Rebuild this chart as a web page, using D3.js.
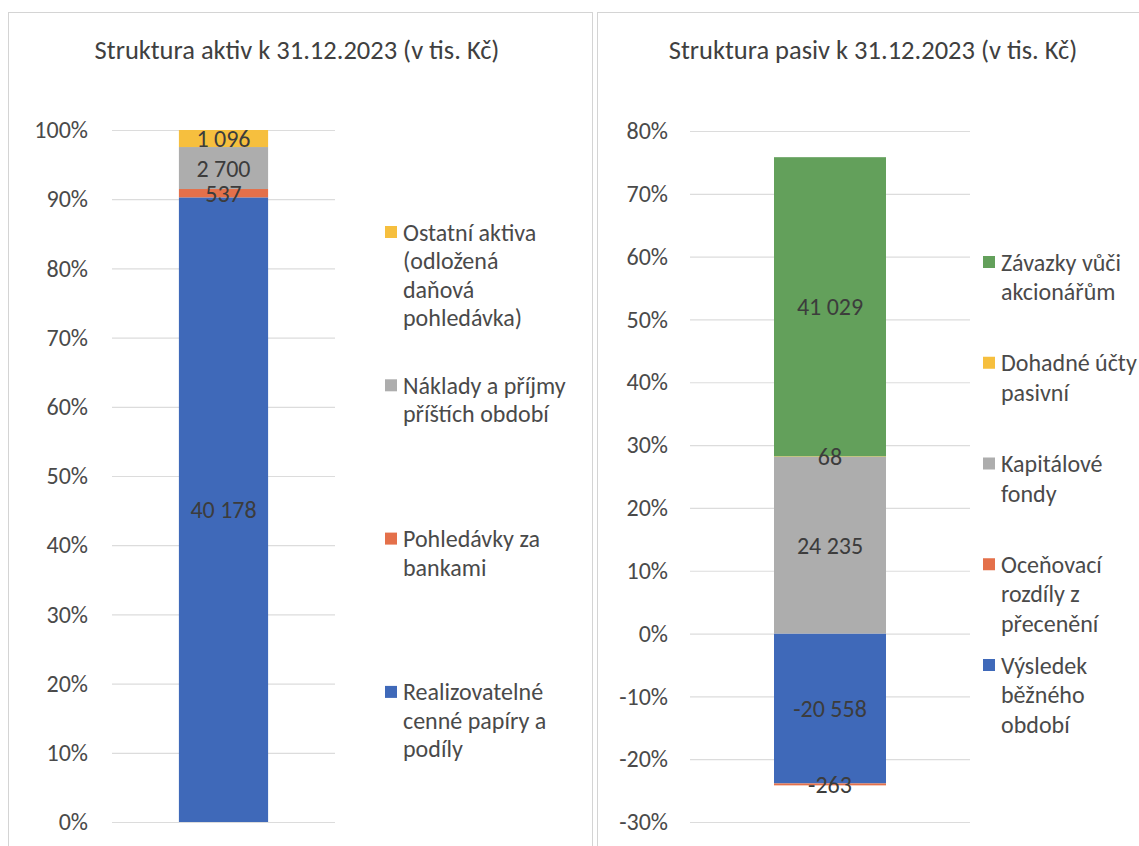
<!DOCTYPE html>
<html>
<head>
<meta charset="utf-8">
<script src="https://cdn.jsdelivr.net/npm/d3@7"></script>
<style>
  body { margin: 0; background: #fff; }
  svg { display: block; font-family: Carlito, Calibri, Lato, sans-serif; }
</style>
</head>
<body>
<svg id="chart" width="1139" height="846"></svg>
<script>
// aktiva (bottom -> top)
const aktivaSeries = ['Realizovatelné cenné papíry a podíly', 'Pohledávky za bankami', 'Náklady a příjmy příštích období', 'Ostatní aktiva (odložená daňová pohledávka)'];
const aktivaLegend = [['Realizovatelné', 'cenné papíry a', 'podíly'], ['Pohledávky za', 'bankami'], ['Náklady a příjmy', 'příštích období'], ['Ostatní aktiva', '(odložená', 'daňová', 'pohledávka)']];
const aktivaValues = [40178, 537, 2700, 1096];
const aktivaColors = ['#3f69b9', '#e4704a', '#adadad', '#f6bf3e'];
const aktivaTicks = [0, 0.1, 0.2, 0.3, 0.4, 0.5, 0.6, 0.7, 0.8, 0.9, 1];

// pasiva (bottom -> top)
const pasivaSeries = ['Výsledek běžného období', 'Oceňovací rozdíly z přecenění', 'Kapitálové fondy', 'Dohadné účty pasivní', 'Závazky vůči akcionářům'];
const pasivaLegend = [['Výsledek', 'běžného', 'období'], ['Oceňovací', 'rozdíly z', 'přecenění'], ['Kapitálové', 'fondy'], ['Dohadné účty', 'pasivní'], ['Závazky vůči', 'akcionářům']];
const pasivaValues = [-20558, -263, 24235, 68, 41029];
const pasivaColors = ['#3f69b9', '#e4704a', '#adadad', '#f6bf3e', '#63a05b'];
const pasivaTicks = [-0.3, -0.2, -0.1, 0, 0.1, 0.2, 0.3, 0.4, 0.5, 0.6, 0.7, 0.8];

const svg = d3.select('#chart');
const textColor = '#4a4a4a';
const gridColor = '#dcdcdc';

const cz = d3.formatLocale({decimal: ',', thousands: '\u00a0', grouping: [3], currency: ['', ' Kč'], minus: '-'});
const fmtNum = cz.format(',d');
const fmtPct = cz.format('.0%');

function drawChart(cfg) {
    const g = svg.append('g');

    // frame
    g.append('rect')
        .attr('x', cfg.frame[0] + 0.5)
        .attr('y', cfg.frame[1] + 0.5)
        .attr('width', cfg.frame[2])
        .attr('height', cfg.frame[3])
        .attr('fill', '#fff')
        .attr('stroke', '#d4d4d4');

    g.append('text')
        .attr('x', cfg.titleX)
        .attr('y', 50)
        .attr('text-anchor', 'middle')
        .attr('dominant-baseline', 'central')
        .style('font-size', '26.5px')
        .attr('fill', '#404040')
        .text(cfg.title);

    // 100% stacked: shares of the sum of absolute values (like Excel)
    const absTotal = d3.sum(cfg.values, v => Math.abs(v));
    const row = {};
    cfg.series.forEach((s, i) => row[s] = cfg.values[i] / absTotal);

    const stacked = d3.stack()
        .keys(cfg.series)
        .offset(d3.stackOffsetDiverging)([row]);

    const y = d3.scaleLinear()
        .domain(d3.extent(cfg.ticks))
        .range(cfg.yRange);

    const x = d3.scaleBand()
        .domain(['x'])
        .range(cfg.xRange)
        .paddingInner(0.6)
        .paddingOuter(0.3);

    // grid + tick labels via axis
    const axis = d3.axisLeft(y)
        .tickValues(cfg.ticks)
        .tickFormat(fmtPct)
        .tickSize(-(cfg.xRange[1] - cfg.xRange[0]))
        .tickPadding(cfg.tickPad);

    const axisG = g.append('g')
        .attr('transform', `translate(${cfg.xRange[0]},0)`)
        .call(axis);
    axisG.select('.domain').remove();
    axisG.selectAll('.tick line')
        .attr('stroke', gridColor)
        .attr('stroke-width', 1.2);
    axisG.selectAll('.tick text')
        .attr('fill', textColor)
        .style('font-size', '24px')
        .style('font-family', 'Carlito, Calibri, Lato, sans-serif');

    // bars
    g.selectAll('.seg')
        .data(stacked)
        .join('rect')
            .attr('class', 'seg')
            .attr('x', x('x'))
            .attr('width', x.bandwidth())
            .attr('y', d => y(d[0][1]))
            .attr('height', d => Math.abs(y(d[0][0]) - y(d[0][1])))
            .attr('fill', (d, i) => cfg.colors[i]);

    // data labels
    g.selectAll('.lbl')
        .data(stacked)
        .join('text')
            .attr('class', 'lbl')
            .attr('x', x('x') + x.bandwidth() / 2)
            .attr('y', d => y((d[0][0] + d[0][1]) / 2))
            .attr('text-anchor', 'middle')
            .attr('dominant-baseline', 'central')
            .attr('fill', '#3c3c3c')
            .style('font-size', '24px')
            .text((d, i) => fmtNum(cfg.values[i]));

    // legend (reverse order, top series first)
    const legendItems = cfg.legend.map((lines, i) => ({lines, color: cfg.colors[i]})).reverse();
    const lg = g.selectAll('.legend')
        .data(legendItems)
        .join('g')
            .attr('class', 'legend')
            .attr('transform', (d, i) => `translate(${cfg.legendX},${cfg.legendY + i * cfg.legendStep})`);

    lg.append('rect')
        .attr('x', 0)
        .attr('y', -6)
        .attr('width', 12)
        .attr('height', 12)
        .attr('fill', d => d.color);

    lg.append('text')
        .attr('fill', textColor)
        .style('font-size', '24px')
        .selectAll('tspan')
        .data(d => d.lines)
        .join('tspan')
            .attr('x', 18)
            .attr('y', (d, i) => i * cfg.lineH)
            .attr('dominant-baseline', 'central')
            .text(d => d);
}

drawChart({
    title: 'Struktura aktiv k 31.12.2023 (v tis. Kč)',
    series: aktivaSeries,
    legend: aktivaLegend,
    values: aktivaValues,
    colors: aktivaColors,
    ticks: aktivaTicks,
    frame: [8, 12, 584, 850],
    titleX: 297,
    xRange: [112, 335],
    yRange: [822, 130],
    tickPad: 24,
    legendX: 385,
    legendY: 232,
    legendStep: 153.3,
    lineH: 28.5
});

drawChart({
    title: 'Struktura pasiv k 31.12.2023 (v tis. Kč)',
    series: pasivaSeries,
    legend: pasivaLegend,
    values: pasivaValues,
    colors: pasivaColors,
    ticks: pasivaTicks,
    frame: [597, 12, 560, 850],
    titleX: 873,
    xRange: [690, 970],
    yRange: [822, 131],
    tickPad: 22,
    legendX: 983,
    legendY: 262,
    legendStep: 100.75,
    lineH: 29.5
});
</script>
</body>
</html>
